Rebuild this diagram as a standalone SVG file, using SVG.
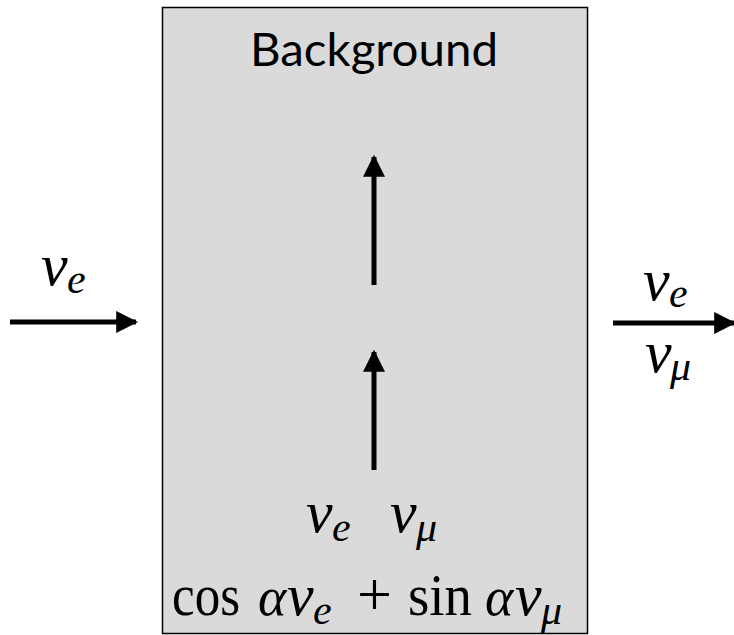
<svg xmlns="http://www.w3.org/2000/svg" width="734" height="635" viewBox="0 0 734 635">
<style>
.m{font-family:"Liberation Serif","DejaVu Serif",serif;font-style:italic;fill:#000}
.r{font-family:"Liberation Serif","DejaVu Serif",serif;fill:#000}
.t{font-family:Lato,"Liberation Sans",sans-serif;fill:#000}
.a{stroke:#000;stroke-width:5;fill:none;marker-end:url(#h)}
</style>
<defs>
<marker id="h" viewBox="0 0 10 10" refX="9" refY="5" markerWidth="4.4" markerHeight="4.4" orient="auto" markerUnits="strokeWidth">
<path d="M0,0 L10,5 L0,10 z" fill="#000"/>
</marker>
</defs>
<rect width="734" height="635" fill="#fff"/>
<g id="background-box">
<rect x="162.5" y="7.5" width="425" height="626" fill="#dadada" stroke="#000" stroke-width="1.5"/>
<text class="t" x="250" y="66" font-size="47" textLength="248" lengthAdjust="spacingAndGlyphs">Background</text>
</g>
<g id="connectors">
<line class="a" x1="10" y1="322" x2="136" y2="322"/>
<line class="a" x1="613" y1="323" x2="734" y2="323"/>
<line class="a" x1="374" y1="285" x2="374" y2="157"/>
<line class="a" x1="374" y1="470" x2="374" y2="352"/>
</g>
<g id="label-in">
<text class="m" x="41" y="285" font-size="60">ν</text>
<text class="m" x="67" y="293" font-size="42">e</text>
</g>
<g id="label-out">
<text class="m" x="643" y="300" font-size="60">ν</text>
<text class="m" x="669" y="307" font-size="42">e</text>
<text class="m" x="645" y="372" font-size="60">ν</text>
<text class="m" x="670" y="380" font-size="42">μ</text>
</g>
<g id="label-basis">
<text class="m" x="306" y="532" font-size="60">ν</text>
<text class="m" x="332" y="541" font-size="42">e</text>
<text class="m" x="390" y="532" font-size="60">ν</text>
<text class="m" x="416" y="541" font-size="42">μ</text>
</g>
<g id="label-mix">
<text class="r" x="172" y="615" font-size="60" textLength="68" lengthAdjust="spacingAndGlyphs">cos</text>
<text class="m" x="258" y="615" font-size="54">α</text>
<text class="m" x="287" y="615" font-size="60">ν</text>
<text class="m" x="313" y="624" font-size="42">e</text>
<text class="r" x="357" y="615" font-size="62">+</text>
<text class="r" x="408" y="615" font-size="60" textLength="64" lengthAdjust="spacingAndGlyphs">sin</text>
<text class="m" x="485" y="615" font-size="54">α</text>
<text class="m" x="515" y="615" font-size="60">ν</text>
<text class="m" x="541" y="624" font-size="42">μ</text>
</g>
</svg>
